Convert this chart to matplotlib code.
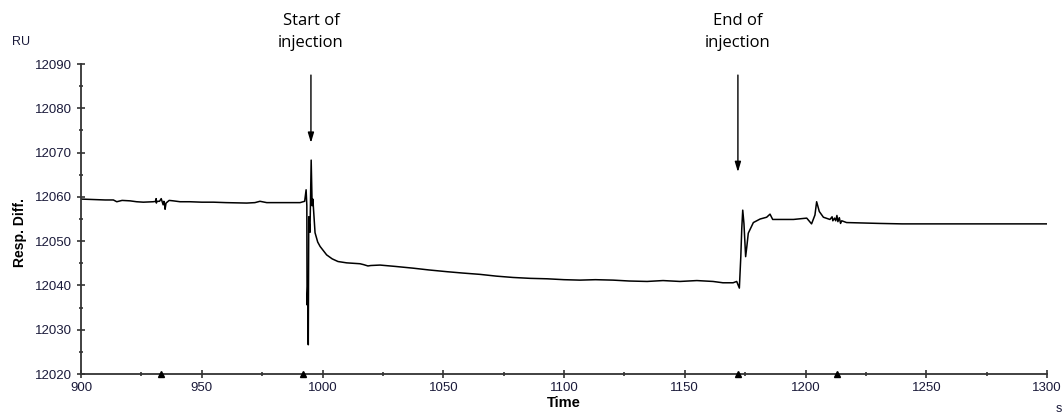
import matplotlib
matplotlib.use("Agg")
import matplotlib.pyplot as plt
from matplotlib.ticker import MultipleLocator

# sensorgram trace
time = [900, 905, 910, 913.4, 914.8, 917, 920.3, 923, 925.8, 929.9,
        931.0, 931.1, 931.2, 931.4, 932.5, 933.2, 934.0, 934.3, 934.6, 934.8,
        935.2, 936.5, 938.2, 941, 945, 950, 954.8, 960, 968.6, 972,
        974.1, 976.9, 980, 985, 990.7, 992.6, 993.2, 993.5, 993.6, 993.9,
        994.1, 994.3, 994.8, 995.3, 995.7, 996.0, 996.9, 998, 999, 1001.7,
        1004, 1006.4, 1010, 1015.5, 1017, 1018.8, 1020, 1023.8, 1030, 1037.5,
        1044, 1051.6, 1058, 1065.2, 1072, 1078.9, 1086, 1093, 1100, 1106.6,
        1113, 1120.3, 1127, 1134.4, 1141, 1148, 1155, 1161.7, 1165.8, 1170,
        1171.5, 1172.6, 1173.2, 1173.6, 1174.0, 1174.5, 1175.2, 1175.7, 1176.3, 1178.4,
        1181.2, 1183.9, 1185.3, 1186.4, 1195, 1200.5, 1202.5, 1203.9, 1204.6, 1205.7,
        1207.4, 1210.1, 1211.0, 1211.3, 1212.0, 1212.5, 1213.0, 1213.4, 1214.0, 1214.5,
        1215.0, 1217, 1230.8, 1240, 1260, 1280, 1300]
resp = [12059.5, 12059.4, 12059.3, 12059.3, 12058.9, 12059.2, 12059.1, 12058.9, 12058.8, 12058.9,
        12059.0, 12059.6, 12058.6, 12059.0, 12059.0, 12059.6, 12058.2, 12059.0, 12058.3, 12057.2,
        12058.6, 12059.2, 12059.1, 12058.9, 12058.9, 12058.8, 12058.8, 12058.7, 12058.6, 12058.7,
        12059.0, 12058.7, 12058.7, 12058.7, 12058.7, 12059.0, 12061.6, 12058.0, 12035.6, 12040.0,
        12026.6, 12055.5, 12052.0, 12068.3, 12058.0, 12059.5, 12051.9, 12049.8, 12048.8, 12046.9,
        12046.0, 12045.4, 12045.1, 12044.9, 12044.7, 12044.4, 12044.5, 12044.6, 12044.3, 12043.9,
        12043.5, 12043.1, 12042.8, 12042.5, 12042.1, 12041.8, 12041.6, 12041.5, 12041.3, 12041.2,
        12041.3, 12041.2, 12041.0, 12040.9, 12041.1, 12040.9, 12041.1, 12040.9, 12040.6, 12040.6,
        12040.9, 12039.4, 12046.5, 12052.9, 12057.0, 12054.0, 12046.5, 12048.8, 12051.8, 12054.2,
        12055.0, 12055.4, 12056.1, 12054.9, 12054.9, 12055.2, 12053.9, 12055.9, 12058.9, 12056.7,
        12055.4, 12054.9, 12055.5, 12054.6, 12055.2, 12054.6, 12055.8, 12054.4, 12055.3, 12054.0,
        12054.6, 12054.2, 12054.0, 12053.9, 12053.9, 12053.9, 12053.9]

# injection markers on the time axis
marker_times = [933, 992, 1172, 1213]

# arrows: (label, time, arrow tip)
notes = [("Start of\ninjection", 995.2, 12072.2),
         ("End of\ninjection", 1172.0, 12065.6)]

fig = plt.figure(figsize=(10.62, 4.2), dpi=100)
ax = fig.add_axes([0.0763, 0.1095, 0.9096, 0.7381])

ax.plot(time, resp, color="black", linewidth=1.1)
ax.plot(marker_times, [12020] * len(marker_times), "^", color="black",
        markersize=4, clip_on=False, zorder=5)

ax.set_xlim(900, 1300)
ax.set_ylim(12020, 12090)
ax.xaxis.set_major_locator(MultipleLocator(50))
ax.xaxis.set_minor_locator(MultipleLocator(25))
ax.yaxis.set_major_locator(MultipleLocator(10))
ax.yaxis.set_minor_locator(MultipleLocator(5))

for s in ["top", "right"]:
    ax.spines[s].set_visible(False)
for s in ["left", "bottom"]:
    ax.spines[s].set_linewidth(1.3)
    ax.spines[s].set_color("#333333")

tick_font = "Liberation Sans"
ax.tick_params(which="major", direction="inout", length=6, width=1.2,
               colors="#333333", labelsize=9.5, labelcolor="#1a1a3a")
ax.tick_params(which="minor", direction="inout", length=2.5, width=1.2,
               colors="#333333")
for lab in ax.get_xticklabels() + ax.get_yticklabels():
    lab.set_fontfamily(tick_font)
ax.tick_params(axis="x", pad=3)

fig.text(0.011, 0.893, "RU", fontsize=9, fontfamily=tick_font, color="#1a1a3a")
fig.text(0.994, 0.018, "s", fontsize=9, fontfamily=tick_font, color="#1a1a3a")
ax.set_xlabel("Time", fontsize=10.5, fontweight="bold", fontfamily=tick_font,
              labelpad=1)
ax.set_ylabel("Resp. Diff.", fontsize=10, fontweight="bold", fontfamily=tick_font)
ax.yaxis.set_label_coords(-0.056, 0.455)

for label, t, tip in notes:
    ax.annotate("", xy=(t, tip), xytext=(t, 12087.5), annotation_clip=False,
                arrowprops=dict(arrowstyle="-|>,head_length=0.6,head_width=0.18",
                                color="black", linewidth=1.0, shrinkA=0, shrinkB=0))
    ax.text(t, 12097.2, label, ha="center", va="center", fontsize=12,
            fontfamily="Open Sans", linespacing=1.45, clip_on=False)

fig.savefig("out.png", dpi=100)
